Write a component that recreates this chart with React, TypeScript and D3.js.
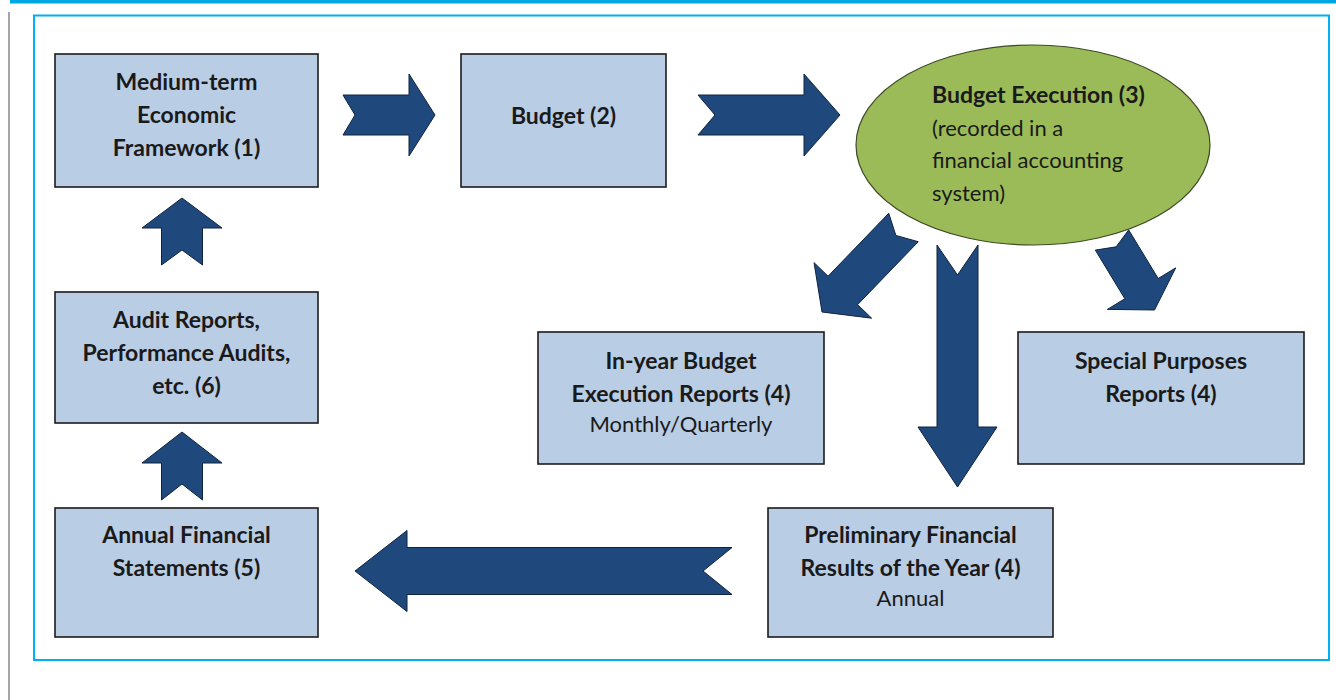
import React from "react";
import * as d3 from "d3";

// ---- Data: labels of the process diagram ----
const boxIds = ["mtef", "budget", "audit", "annual", "inyear", "special", "prelim"];
const boxBold: string[][] = [
  ["Medium-term", "Economic", "Framework (1)"],
  ["Budget (2)"],
  ["Audit Reports,", "Performance Audits,", "etc. (6)"],
  ["Annual Financial", "Statements (5)"],
  ["In-year Budget", "Execution Reports (4)"],
  ["Special Purposes", "Reports (4)"],
  ["Preliminary Financial", "Results of the Year (4)"],
];
const boxSub: string[] = ["", "", "", "", "Monthly/Quarterly", "", "Annual"];
const ellipseTitle = "Budget Execution (3)";
const ellipseLines = ["(recorded in a", "financial accounting", "system)"];
const arrowIds = ["mtef-budget", "budget-exec", "exec-inyear", "exec-prelim", "exec-special", "prelim-annual", "audit-mtef", "annual-audit"];

// ---- Layout (geometry) ----
const W = 1336, H = 700;
const boxLayout: Record<string, { x0: number; x1: number; y0: number; y1: number; firstBase: number }> = {
  mtef: { x0: 55, x1: 318, y0: 54, y1: 187, firstBase: 90 },
  budget: { x0: 461, x1: 666, y0: 54, y1: 187, firstBase: 124 },
  audit: { x0: 55, x1: 318, y0: 292, y1: 423, firstBase: 328 },
  annual: { x0: 55, x1: 318, y0: 508, y1: 637, firstBase: 543 },
  inyear: { x0: 538, x1: 824, y0: 332, y1: 464, firstBase: 369 },
  special: { x0: 1018, x1: 1304, y0: 332, y1: 464, firstBase: 369 },
  prelim: { x0: 768, x1: 1053, y0: 508, y1: 637, firstBase: 543 },
};
const lineGap = 33;

type ArrowGeom = { tail: [number, number]; tip: [number, number]; body: number; head: number; headLen: number; notch: number };
const arrowLayout: Record<string, ArrowGeom> = {
  "mtef-budget": { tail: [343, 115], tip: [435, 115], body: 20, head: 41, headLen: 26, notch: 12 },
  "budget-exec": { tail: [698, 115], tip: [840, 115], body: 20, head: 41, headLen: 36, notch: 17 },
  "exec-inyear": { tail: [903.5, 227.5], tip: [822, 312], body: 20.5, head: 40, headLen: 30, notch: 11 },
  "exec-prelim": { tail: [957.5, 245], tip: [957.5, 487], body: 20.5, head: 39.5, headLen: 60, notch: 30 },
  "exec-special": { tail: [1112, 240], tip: [1154.5, 310], body: 19.5, head: 40, headLen: 25, notch: 8 },
  "prelim-annual": { tail: [732, 571], tip: [355, 571], body: 23.5, head: 40.5, headLen: 52, notch: 29 },
  "audit-mtef": { tail: [182, 265], tip: [182, 198], body: 20.5, head: 40, headLen: 30, notch: 15 },
  "annual-audit": { tail: [182, 500], tip: [182, 432], body: 20.5, head: 40, headLen: 31, notch: 16 },
};
const ell = { cx: 1033, cy: 145, rx: 177, ry: 100, textX: 932, firstBase: 103, gap: 32.5 };

const FONT = "Lato, 'Open Sans', sans-serif";
const BOLD_SIZE = 23;
const REG_SIZE = 22;
const BOX_FILL = "#b9cde5";
const ARROW_FILL = "#1f497d";
const TEXT = "#1a1a1a";

function arrowPath(a: ArrowGeom): string {
  const [tx, ty] = a.tail;
  const [px, py] = a.tip;
  const L = Math.hypot(px - tx, py - ty);
  const dx = (px - tx) / L, dy = (py - ty) / L;
  const nx = -dy, ny = dx;
  const at = (s: number, w: number): [number, number] => [tx + dx * s + nx * w, ty + dy * s + ny * w];
  const hb = L - a.headLen;
  const pts: [number, number][] = [
    at(0, a.body),
    at(a.notch, 0),
    at(0, -a.body),
    at(hb, -a.body),
    at(hb, -a.head),
    [px, py],
    at(hb, a.head),
    at(hb, a.body),
  ];
  return (d3.line().curve(d3.curveLinearClosed)(pts) as string);
}

export default function App() {
  return (
    <svg
      width={W}
      height={H}
      viewBox={`0 0 ${W} ${H}`}
      style={{ position: "absolute", left: 0, top: 0, background: "#fff" }}
    >
      <rect x={0} y={0} width={W} height={H} fill="#fff" />
      {/* top bar and left rule */}
      <rect x={10} y={0} width={W - 10} height={3.5} fill="#00a6e2" />
      <line x1={9} y1={12} x2={9} y2={H} stroke="#a6a6a6" strokeWidth={2} />
      {/* frame */}
      <rect x={34} y={15.5} width={1295} height={644.5} fill="none" stroke="#00b0f0" strokeWidth={2} />

      {/* boxes */}
      {boxIds.map((id, i) => {
        const b = boxLayout[id];
        const cx = (b.x0 + b.x1) / 2;
        return (
          <g key={id}>
            <rect x={b.x0} y={b.y0} width={b.x1 - b.x0} height={b.y1 - b.y0} fill={BOX_FILL} stroke="#1c1c1c" strokeWidth={1.6} />
            {boxBold[i].map((t, j) => (
              <text key={j} x={cx} y={b.firstBase + j * lineGap} textAnchor="middle" fontFamily={FONT} fontWeight={700} fontSize={BOLD_SIZE} fill={TEXT}>
                {t}
              </text>
            ))}
            {boxSub[i] ? (
              <text x={cx} y={b.firstBase + boxBold[i].length * lineGap - 3} textAnchor="middle" fontFamily={FONT} fontSize={REG_SIZE} fill={TEXT}>
                {boxSub[i]}
              </text>
            ) : null}
          </g>
        );
      })}

      {/* ellipse */}
      <ellipse cx={ell.cx} cy={ell.cy} rx={ell.rx} ry={ell.ry} fill="#9bbb59" stroke="#3d4a26" strokeWidth={1.2} />
      <text x={ell.textX} y={ell.firstBase} fontFamily={FONT} fontWeight={700} fontSize={BOLD_SIZE} fill={TEXT}>
        {ellipseTitle}
      </text>
      {ellipseLines.map((t, j) => (
        <text key={j} x={ell.textX} y={ell.firstBase + (j + 1) * ell.gap} fontFamily={FONT} fontSize={REG_SIZE} fill={TEXT}>
          {t}
        </text>
      ))}

      {/* arrows */}
      {arrowIds.map((id) => (
        <path key={id} d={arrowPath(arrowLayout[id])} fill={ARROW_FILL} stroke="#10243d" strokeWidth={1} strokeLinejoin="miter" />
      ))}
    </svg>
  );
}
